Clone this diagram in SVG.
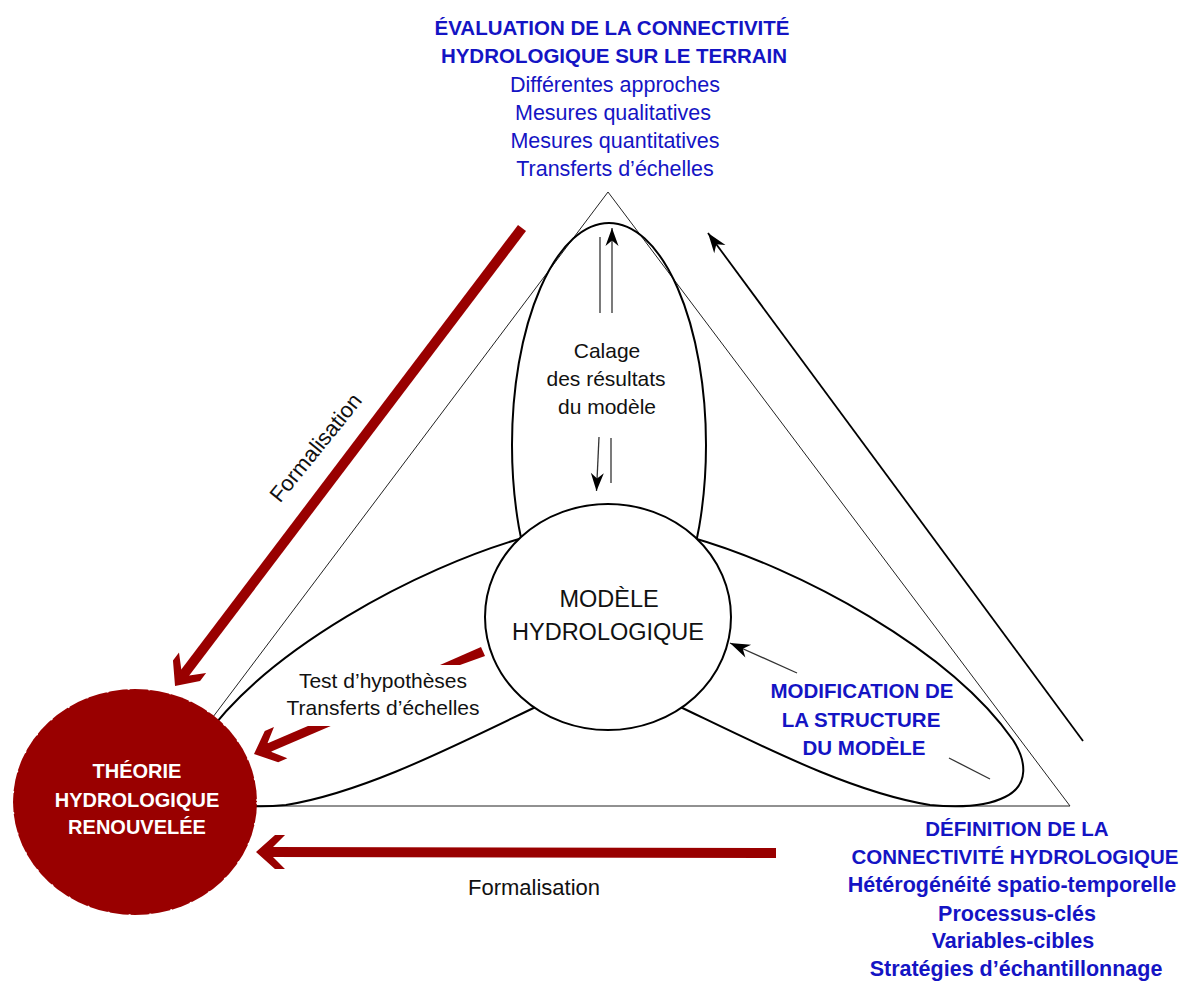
<svg xmlns="http://www.w3.org/2000/svg" width="1193" height="982" viewBox="0 0 1193 982">
<style>
text{font-family:"Liberation Sans",Arial,sans-serif;}
.blueB{fill:#1414c4;font-weight:bold;font-size:20.5px;text-anchor:middle;}
.blueBl{fill:#1414c4;font-weight:bold;font-size:21.5px;text-anchor:middle;}
.blueR{fill:#1414c4;font-size:21.5px;text-anchor:middle;}
.blk{fill:#111;font-size:21px;text-anchor:middle;}
.white{fill:#fff;font-weight:bold;font-size:20px;text-anchor:middle;}
.thin{fill:none;stroke:#222;stroke-width:1;}
.petal{fill:none;stroke:#000;stroke-width:2;}
.ar{fill:none;stroke:#333;stroke-width:1.3;}
.red{fill:none;stroke:#990000;stroke-width:10;stroke-linecap:butt;}
</style>
<defs>
<marker id="bh" markerUnits="userSpaceOnUse" orient="auto" refX="0" refY="0" markerWidth="30" markerHeight="30" overflow="visible">
<path d="M0,0 L-20,-7 L-14,0 L-20,7 Z" fill="#000"/>
</marker>
<marker id="bs" markerUnits="userSpaceOnUse" orient="auto" refX="0" refY="0" markerWidth="30" markerHeight="30" overflow="visible">
<path d="M0,0 L-18,-6.5 L-12.5,0 L-18,6.5 Z" fill="#000"/>
</marker>
<marker id="rh" markerUnits="userSpaceOnUse" orient="auto" refX="0" refY="0" markerWidth="60" markerHeight="60" overflow="visible">
<path d="M15,0 L-4,-17 L-14,-17 L-2,-5 L-2,5 L-14,17 L-4,17 Z" fill="#990000"/>
</marker>
<clipPath id="belowText"><rect x="0" y="726" width="600" height="100"/></clipPath>
</defs>

<g id="triangle">
<polygon class="thin" points="608,192 146,806 1070,806"/>
</g>

<g id="petals">
<ellipse class="petal" cx="609" cy="445" rx="97" ry="222"/>
<path class="petal" d="M690,537 C800,568 950,650 1013,740 C1026,760 1030,785 1005,797 C985,807 960,808 930,805 C850,792 760,745 672,703"/>
<path class="petal" d="M526,537 C416,568 266,650 203,740 C190,760 186,785 211,797 C231,807 256,808 286,805 C366,792 456,745 544,703"/>
</g>

<g id="modele">
<ellipse cx="608" cy="617" rx="123" ry="113" fill="#fff" stroke="#000" stroke-width="2"/>
<text class="blk" style="font-size:23.5px" x="609" y="607">MODÈLE</text>
<text class="blk" style="font-size:23.5px" x="608" y="640">HYDROLOGIQUE</text>
</g>

<g id="connectors">
<line class="ar" x1="600" y1="237" x2="600" y2="313"/>
<line class="ar" x1="612" y1="313" x2="612" y2="228" marker-end="url(#bs)"/>
<line class="ar" x1="599" y1="437" x2="596.5" y2="491" marker-end="url(#bs)"/>
<line class="ar" x1="611" y1="438" x2="611" y2="483"/>
<line x1="1083" y1="741" x2="708" y2="233" stroke="#000" stroke-width="1.8" marker-end="url(#bh)"/>
<line class="ar" x1="797" y1="673" x2="730" y2="643" marker-end="url(#bh)"/>
<line class="ar" x1="949" y1="758" x2="990" y2="779"/>
<line class="red" x1="522" y1="228" x2="184.1" y2="674" marker-end="url(#rh)"/>
<line class="red" x1="776" y1="853" x2="271" y2="852" marker-end="url(#rh)"/>
<polygon points="481,647 485,656 460,665 440,665" fill="#990000"/>
<line class="red" style="stroke-width:9" x1="345" y1="715" x2="267.8" y2="748.1" marker-end="url(#rh)" clip-path="url(#belowText)"/>
</g>

<g id="theorie">
<ellipse cx="135" cy="802" rx="122" ry="113" fill="#990000" stroke="#fff" stroke-width="1.2" stroke-dasharray="2 19"/>
<text class="white" x="137" y="778">THÉORIE</text>
<text class="white" x="137" y="807">HYDROLOGIQUE</text>
<text class="white" x="137" y="834">RENOUVELÉE</text>
</g>

<g id="evaluation">
<text class="blueB" x="612" y="35">ÉVALUATION DE LA CONNECTIVITÉ</text>
<text class="blueB" x="614" y="63">HYDROLOGIQUE SUR LE TERRAIN</text>
<text class="blueR" x="615" y="92">Différentes approches</text>
<text class="blueR" x="613" y="120">Mesures qualitatives</text>
<text class="blueR" x="615" y="148">Mesures quantitatives</text>
<text class="blueR" x="615" y="176">Transferts d’échelles</text>
</g>

<g id="definition">
<text class="blueB" x="1017" y="836">DÉFINITION DE LA</text>
<text class="blueB" x="1015" y="864">CONNECTIVITÉ HYDROLOGIQUE</text>
<text class="blueBl" x="1012" y="892">Hétérogénéité spatio-temporelle</text>
<text class="blueBl" x="1017" y="921">Processus-clés</text>
<text class="blueBl" x="1013" y="948">Variables-cibles</text>
<text class="blueBl" x="1016" y="976">Stratégies d’échantillonnage</text>
</g>

<g id="modification">
<text class="blueB" x="862" y="698">MODIFICATION DE</text>
<text class="blueB" x="861" y="727">LA STRUCTURE</text>
<text class="blueB" x="864" y="755">DU MODÈLE</text>
</g>

<g id="calage">
<text class="blk" x="607" y="358">Calage</text>
<text class="blk" x="606" y="386">des résultats</text>
<text class="blk" x="607" y="414">du modèle</text>
</g>

<g id="test">
<text class="blk" x="383" y="688">Test d’hypothèses</text>
<text class="blk" x="383" y="715">Transferts d’échelles</text>
</g>

<g id="labels">
<text class="blk" style="font-size:22px" transform="translate(316,448) rotate(-51)" x="0" y="7">Formalisation</text>
<text class="blk" style="font-size:22px" x="534" y="895">Formalisation</text>
</g>
</svg>
